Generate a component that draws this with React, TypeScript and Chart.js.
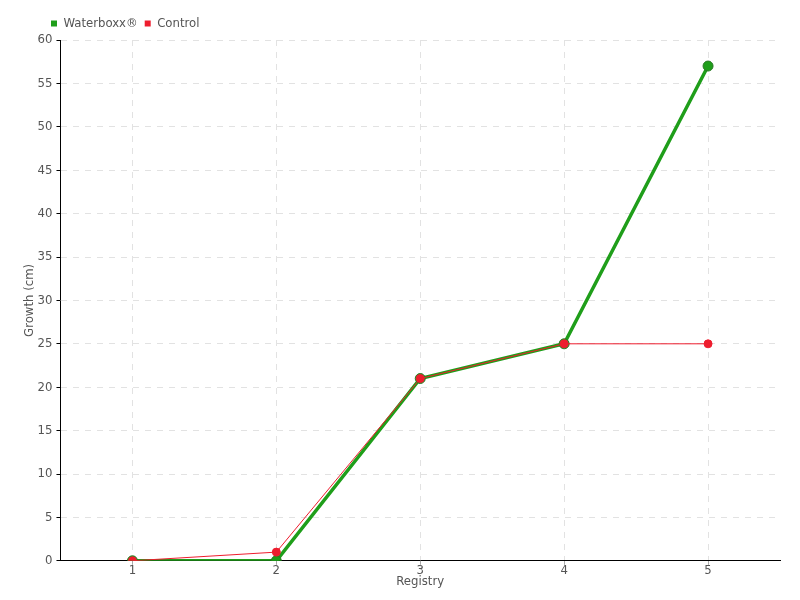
import React, { useEffect, useRef } from "react";
import { Chart, registerables } from "chart.js";

Chart.register(...registerables);

const categories = ["1", "2", "3", "4", "5"];
const waterboxx = [0, 0, 21, 25, 57];
const control = [0, 1, 21, 25, 25];

const FONT = "'DejaVu Sans Condensed', 'DejaVu Sans', sans-serif";

export default function App() {
  const ref = useRef<HTMLCanvasElement | null>(null);
  useEffect(() => {
    document.body.style.margin = "0";
    const ctx = ref.current!;
    const chart = new Chart(ctx, {
      type: "line",
      data: {
        labels: categories,
        datasets: [
          {
            label: "Waterboxx®",
            data: waterboxx,
            borderColor: "#1f9e1a",
            backgroundColor: "#1f9e1a",
            pointBackgroundColor: "#1f9e1a",
            pointBorderColor: "#2a7a25",
            pointBorderWidth: 1,
            borderWidth: 3.5,
            pointRadius: 5,
            tension: 0,
            order: 1,
          },
          {
            label: "Control",
            data: control,
            borderColor: "#ee1d2e",
            backgroundColor: "#ee1d2e",
            pointBackgroundColor: "#ee1d2e",
            pointBorderColor: "#ee1d2e",
            borderWidth: 1,
            pointRadius: 4,
            tension: 0,
            order: 0,
          },
        ],
      },
      options: {
        animation: false,
        responsive: false,
        maintainAspectRatio: false,
        layout: { padding: { left: 22, right: 20, top: 10, bottom: 11 } },
        plugins: {
          legend: {
            position: "top",
            align: "start",
            labels: {
              boxWidth: 6,
              boxHeight: 6,
              padding: 7,
              color: "#555",
              font: { family: FONT, size: 13 },
              sort: (a: any, b: any) => a.datasetIndex - b.datasetIndex,
              generateLabels: (c: any) => {
                const items = Chart.defaults.plugins.legend.labels.generateLabels(c);
                items.forEach((it: any) => {
                  it.lineWidth = 0;
                });
                return items;
              },
            },
          },
          tooltip: { enabled: false },
        },
        scales: {
          x: {
            offset: true,
            grid: {
              offset: false,
              color: "#e2e2e2",
              tickColor: "#aaa",
              tickLength: 4,
            },
            border: { display: true, color: "#000", dash: [6, 6] },
            ticks: { color: "#555", font: { family: FONT, size: 13 }, padding: -2 },
            title: {
              display: true,
              text: "Registry",
              color: "#555",
              font: { family: FONT, size: 13 },
              padding: { top: -3, bottom: 0 },
            },
          },
          y: {
            min: 0,
            max: 60,
            ticks: { stepSize: 5, color: "#555", font: { family: FONT, size: 13 }, padding: 4 },
            grid: { color: "#e2e2e2", tickLength: 4, tickColor: "#000" },
            border: { display: true, color: "#000", dash: [6, 6] },
            title: {
              display: true,
              text: "Growth (cm)",
              color: "#555",
              font: { family: FONT, size: 13 },
              padding: { top: 0, bottom: -4 },
            },
          },
        },
      },
      plugins: [
        {
          id: "shiftLegend",
          afterLayout(c: any) {
            if (c.legend) {
              c.legend.left += 22;
              c.legend.right += 22;
            }
          },
        },
      ],
    });
    return () => chart.destroy();
  }, []);
  return (
    <div style={{ width: 800, height: 600 }}>
      <canvas ref={ref} width={800} height={600} />
    </div>
  );
}
